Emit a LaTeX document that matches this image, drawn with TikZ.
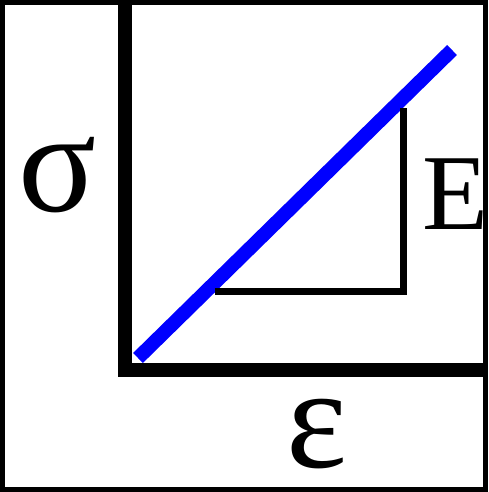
\documentclass[tikz,border=0pt]{standalone}
\usepackage{fontspec}
\setmainfont{Liberation Serif}
\usetikzlibrary{positioning}
\tikzset{
  frameline/.style={line width=5pt},
  axisline/.style={line width=14pt},
  slopeline/.style={blue,line width=14pt},
  triline/.style={line width=7pt},
  biglabel/.style={inner sep=0pt,font=\fontsize{145}{145}\selectfont}
}
\begin{document}
\begin{tikzpicture}[x=1pt,y=1pt]
  \useasboundingbox (0,0) rectangle (488,492);
  \draw[frameline] (2.5,2.5) rectangle (485.5,489.5);
  % axes
  \coordinate (ytop) at (125,490);
  \coordinate (origin) at (125,122);
  \coordinate (xend) at (486,122);
  \draw[axisline] (ytop) -- (origin) -- (xend);
  % stress-strain line
  \coordinate (start) at (138,134);
  \coordinate (stop) at (452,442);
  \draw[slopeline] (start) -- (stop);
  % slope triangle
  \coordinate (tri a) at (215,200);
  \coordinate (tri b) at (403,200);
  \coordinate (tri c) at (403,384);
  \draw[triline] (tri a) -- (tri b) -- (tri c);
  % labels
  \node[biglabel] (sigma) at (58,317) {σ};
  \node[biglabel,font=\fontsize{108}{108}\selectfont] (modulus) at (455,298) {E};
  \node[biglabel] (eps) at (317,58) {ε};
\end{tikzpicture}
\end{document}
